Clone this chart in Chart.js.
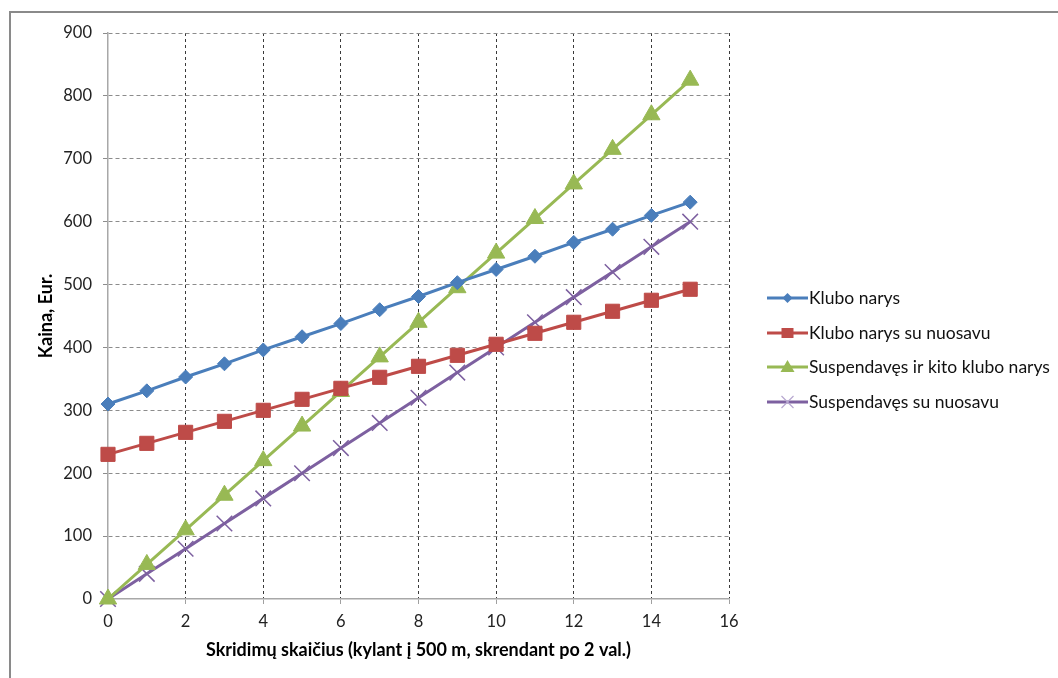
<!DOCTYPE html>
<html>
<head>
<meta charset="utf-8">
<script src="https://cdn.jsdelivr.net/npm/chart.js@4/dist/chart.umd.min.js"></script>
<style>
  html, body { margin: 0; padding: 0; background: #fff; overflow: hidden; }
  #wrap { position: relative; width: 1058px; height: 678px; }
  #frame { position: absolute; left: 9px; top: 11px; width: 1100px; height: 700px;
           border: 2px solid #8a8a8a; pointer-events: none; }
</style>
</head>
<body>
<div id="wrap">
  <canvas id="chart" width="1058" height="678"></canvas>
  <div id="frame"></div>
</div>
<script>
const flights = [0, 1, 2, 3, 4, 5, 6, 7, 8, 9, 10, 11, 12, 13, 14, 15];
const clubMember = [310, 331, 353, 374, 396, 417, 438, 460, 481, 503, 524, 545, 567, 588, 610, 631];
const clubMemberOwn = [230, 247.5, 265, 282.5, 300, 317.5, 335, 352.5, 370, 387.5, 405, 422.5, 440, 457.5, 475, 492.5];
const otherClub = [0, 55, 110, 165, 220, 275, 330, 385, 440, 495, 550, 605, 660, 715, 770, 825];
const suspendedOwn = [0, 40, 80, 120, 160, 200, 240, 280, 320, 360, 400, 440, 480, 520, 560, 600];
const seriesNames = ['Klubo narys', 'Klubo narys su nuosavu', 'Suspendavęs ir kito klubo narys', 'Suspendavęs su nuosavu'];

const pts = arr => arr.map((v, i) => ({ x: flights[i], y: v }));
const FONT = 'Lato, "Open Sans", sans-serif';

function series(label, data, color, style, radius, extra) {
    return Object.assign({
        label: label,
        data: pts(data),
        showLine: true,
        clip: false,
        borderColor: color,
        backgroundColor: color,
        borderWidth: 3,
        pointStyle: style,
        pointRadius: radius,
        pointHoverRadius: radius,
        pointBackgroundColor: color,
        pointBorderColor: color,
        pointBorderWidth: 1,
        tension: 0
    }, extra || {});
}

// legend drawn on the right, Excel style (line with marker in the middle)
const sideLegend = {
    id: 'sideLegend',
    afterDraw(chart) {
        const ctx = chart.ctx;
        const x0 = 767, x1 = 808, rowY = [298, 333, 367, 402];
        chart.data.datasets.forEach((ds, i) => {
            const y = rowY[i];
            ctx.save();
            ctx.strokeStyle = ds.borderColor;
            ctx.lineWidth = 3;
            ctx.beginPath();
            ctx.moveTo(x0, y);
            ctx.lineTo(x1, y);
            ctx.stroke();
            const cx = (x0 + x1) / 2;
            ctx.fillStyle = ds.borderColor;
            ctx.lineWidth = 1.2;
            ctx.beginPath();
            if (ds.pointStyle === 'rectRot') {
                ctx.moveTo(cx, y - 5); ctx.lineTo(cx + 5, y); ctx.lineTo(cx, y + 5); ctx.lineTo(cx - 5, y);
                ctx.closePath(); ctx.fill();
            } else if (ds.pointStyle === 'rect') {
                ctx.rect(cx - 6, y - 5, 12, 10); ctx.fill();
            } else if (ds.pointStyle === 'triangle') {
                ctx.moveTo(cx, y - 7); ctx.lineTo(cx + 7, y + 5); ctx.lineTo(cx - 7, y + 5);
                ctx.closePath(); ctx.fill();
            } else {
                ctx.strokeStyle = '#b7a8d0';
                ctx.moveTo(cx - 6, y - 6); ctx.lineTo(cx + 6, y + 6);
                ctx.moveTo(cx + 6, y - 6); ctx.lineTo(cx - 6, y + 6);
                ctx.stroke();
            }
            ctx.fillStyle = '#111';
            ctx.font = '17.5px ' + FONT;
            ctx.textBaseline = 'middle';
            ctx.textAlign = 'left';
            ctx.fillText(ds.label, x1 + 1, y);
            ctx.restore();
        });
    }
};

const ctx = document.getElementById('chart').getContext('2d');

new Chart(ctx, {
    type: 'scatter',
    data: {
        datasets: [
            series(seriesNames[0], clubMember, '#4a7ebb', 'rectRot', 7),
            series(seriesNames[1], clubMemberOwn, '#be4b48', 'rect', 10),
            series(seriesNames[2], otherClub, '#98b954', 'triangle', 10),
            series(seriesNames[3], suspendedOwn, '#7d60a0', 'crossRot', 11, { pointBorderWidth: 1.5 })
        ]
    },
    options: {
        responsive: false,
        animation: false,
        layout: { padding: { left: 10, top: 33, right: 329, bottom: 0 } },
        plugins: {
            legend: { display: false },
            tooltip: { enabled: false }
        },
        scales: {
            x: {
                type: 'linear',
                min: 0,
                max: 16,
                afterFit: s => { s.height = 79; },
                ticks: { stepSize: 2, color: '#222', padding: 8, font: { family: FONT, size: 16.5 } },
                grid: {
                    color: c => c.tick && c.tick.value === 0 ? 'rgba(0,0,0,0)' : '#3a3a3a',
                    tickColor: '#a0a0a0',
                    tickLength: 5,
                    lineWidth: 1
                },
                border: { display: true, color: '#a8a8a8', width: 1.5, dash: [3, 3] },
                title: {
                    display: true,
                    text: 'Skridimų skaičius (kylant į 500 m, skrendant po 2 val.)',
                    color: '#000',
                    font: { family: FONT, size: 18, weight: 'bold' },
                    padding: { top: 0, bottom: 17 }
                }
            },
            y: {
                min: 0,
                max: 900,
                afterFit: s => { s.width = 98; },
                ticks: { stepSize: 100, color: '#222', padding: 11, font: { family: FONT, size: 16.5 } },
                grid: {
                    color: c => c.tick && c.tick.value === 0 ? 'rgba(0,0,0,0)' : '#8c8c8c',
                    tickColor: '#8c8c8c',
                    tickLength: 5,
                    lineWidth: 1
                },
                border: { display: true, color: '#a8a8a8', width: 1.5, dash: [4, 3] },
                title: {
                    display: true,
                    text: 'Kaina, Eur.',
                    color: '#000',
                    font: { family: FONT, size: 18, weight: 'bold' },
                    padding: { top: 25, bottom: 0 }
                }
            }
        }
    },
    plugins: [sideLegend]
});
</script>
</body>
</html>
